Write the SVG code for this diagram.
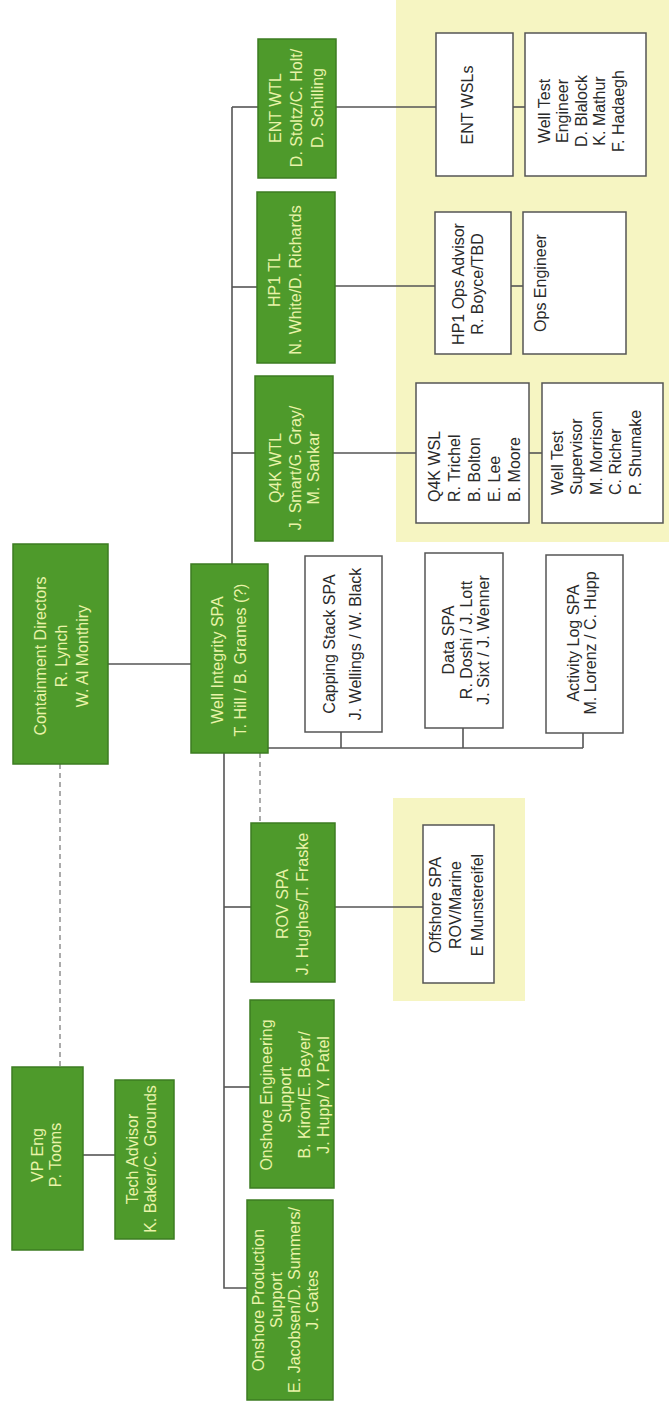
<svg xmlns="http://www.w3.org/2000/svg" width="669" height="1402" viewBox="0 0 669 1402">
<style>
.bg{fill:#ffffff}
.zone{fill:#f6f5c2}
.gbox{fill:#4e9a2b;stroke:#3d7c22;stroke-width:1.5}
.wbox{fill:#ffffff;stroke:#555555;stroke-width:1.5}
.gt{font-family:"Liberation Sans",Arial,sans-serif;font-size:16px;fill:#e9f3a8;text-anchor:middle}
.wt{font-family:"Liberation Sans",Arial,sans-serif;font-size:16px;fill:#2a2a2a;text-anchor:middle}
.st{text-anchor:start}
.ln{fill:none;stroke:#555555;stroke-width:1.6}
.dl{fill:none;stroke:#888888;stroke-width:1.4;stroke-dasharray:5 4}
</style>
<rect class="bg" x="0" y="0" width="669" height="1402"/>
<g id="zones">
<rect class="zone" x="396" y="0" width="273" height="542"/>
<rect class="zone" x="393" y="798" width="132" height="203"/>
</g>
<g id="connectors">
<path class="ln" d="M232 107 V564"/>
<path class="ln" d="M232 107 H258"/>
<path class="ln" d="M232 287 H257"/>
<path class="ln" d="M232 453 H255"/>
<path class="ln" d="M336 107 H436"/>
<path class="ln" d="M513 107 H525"/>
<path class="ln" d="M335 286 H435"/>
<path class="ln" d="M511 286 H523"/>
<path class="ln" d="M333 453 H416"/>
<path class="ln" d="M529 453 H542"/>
<path class="ln" d="M108 664 H191"/>
<path class="ln" d="M268 748 H583"/>
<path class="ln" d="M341 732 V748"/>
<path class="ln" d="M463 728 V748"/>
<path class="ln" d="M583 733 V748"/>
<path class="ln" d="M224 753 V1288 H247"/>
<path class="ln" d="M224 907 H251"/>
<path class="ln" d="M224 1087 H250"/>
<path class="ln" d="M335 907 H423"/>
<path class="ln" d="M83 1155 H115"/>
<path class="dl" d="M60 764 V1067"/>
<path class="dl" d="M260 753 V823"/>
</g>
<g id="ent-wtl">
<rect class="gbox" x="258" y="39" width="78" height="139"/>
<text class="gt" transform="translate(0,108) rotate(-90)"><tspan x="0" y="281">ENT WTL</tspan><tspan x="0" y="302">D. Stoltz/C. Holt/</tspan><tspan x="0" y="323">D. Schilling</tspan></text>
</g>
<g id="ent-wsls">
<rect class="wbox" x="436" y="33" width="77" height="143"/>
<text class="wt" transform="translate(0,105) rotate(-90)"><tspan x="0" y="473">ENT WSLs</tspan></text>
</g>
<g id="well-test-engineer">
<rect class="wbox" x="525" y="33" width="121" height="143"/>
<text class="wt" transform="translate(0,111) rotate(-90)"><tspan x="0" y="550">Well Test</tspan><tspan x="0" y="568">Engineer</tspan><tspan x="0" y="587">D. Blalock</tspan><tspan x="0" y="605">K. Mathur</tspan><tspan x="0" y="624">F. Hadaegh</tspan></text>
</g>
<g id="hp1-tl">
<rect class="gbox" x="257" y="192" width="78" height="171"/>
<text class="gt" transform="translate(0,280) rotate(-90)"><tspan x="0" y="280">HP1 TL</tspan><tspan x="0" y="301">N. White/D. Richards</tspan></text>
</g>
<g id="hp1-ops-advisor">
<rect class="wbox" x="435" y="212" width="76" height="142"/>
<text class="wt" transform="translate(0,284) rotate(-90)"><tspan x="0" y="464">HP1 Ops Advisor</tspan><tspan x="0" y="483">R. Boyce/TBD</tspan></text>
</g>
<g id="ops-engineer">
<rect class="wbox" x="523" y="212" width="103" height="142"/>
<text class="wt" transform="translate(0,283) rotate(-90)"><tspan x="0" y="546">Ops Engineer</tspan></text>
</g>
<g id="q4k-wtl">
<rect class="gbox" x="255" y="376" width="78" height="165"/>
<text class="gt" transform="translate(0,468) rotate(-90)"><tspan x="0" y="281">Q4K WTL</tspan><tspan x="0" y="301">J. Smart/G. Gray/</tspan><tspan x="0" y="319">M. Sankar</tspan></text>
</g>
<g id="q4k-wsl">
<rect class="wbox" x="416" y="383" width="113" height="140"/>
<text class="wt st" transform="translate(0,502) rotate(-90)"><tspan x="0" y="440">Q4K WSL</tspan><tspan x="0" y="460">R. Trichel</tspan><tspan x="0" y="480">B. Bolton</tspan><tspan x="0" y="500">E. Lee</tspan><tspan x="0" y="520">B. Moore</tspan></text>
</g>
<g id="well-test-supervisor">
<rect class="wbox" x="542" y="383" width="121" height="140"/>
<text class="wt st" transform="translate(0,495) rotate(-90)"><tspan x="0" y="563">Well Test</tspan><tspan x="0" y="582">Supervisor</tspan><tspan x="0" y="602">M. Morrison</tspan><tspan x="0" y="621">C. Richer</tspan><tspan x="0" y="641">P. Shumake</tspan></text>
</g>
<g id="containment-directors">
<rect class="gbox" x="13" y="544" width="95" height="220"/>
<text class="gt" transform="translate(0,656) rotate(-90)"><tspan x="0" y="46">Containment Directors</tspan><tspan x="0" y="67">R. Lynch</tspan><tspan x="0" y="88">W. Al Monthiry</tspan></text>
</g>
<g id="well-integrity-spa">
<rect class="gbox" x="191" y="564" width="77" height="189"/>
<text class="gt" transform="translate(0,660) rotate(-90)"><tspan x="0" y="223">Well Integrity SPA</tspan><tspan x="0" y="246">T. Hill / B. Grames (?)</tspan></text>
</g>
<g id="capping-stack-spa">
<rect class="wbox" x="305" y="556" width="77" height="176"/>
<text class="wt" transform="translate(0,644) rotate(-90)"><tspan x="0" y="335">Capping Stack SPA</tspan><tspan x="0" y="361">J. Wellings / W. Black</tspan></text>
</g>
<g id="data-spa">
<rect class="wbox" x="425" y="553" width="78" height="175"/>
<text class="wt" transform="translate(0,640) rotate(-90)"><tspan x="0" y="454">Data SPA</tspan><tspan x="0" y="472">R. Doshi / J. Lott</tspan><tspan x="0" y="489">J. Sixt / J. Wenner</tspan></text>
</g>
<g id="activity-log-spa">
<rect class="wbox" x="546" y="555" width="77" height="178"/>
<text class="wt" transform="translate(0,643) rotate(-90)"><tspan x="0" y="579">Activity Log SPA</tspan><tspan x="0" y="596">M. Lorenz / C. Hupp</tspan></text>
</g>
<g id="rov-spa">
<rect class="gbox" x="251" y="823" width="84" height="159"/>
<text class="gt" transform="translate(0,904) rotate(-90)"><tspan x="0" y="288">ROV SPA</tspan><tspan x="0" y="308">J. Hughes/T. Fraske</tspan></text>
</g>
<g id="offshore-spa">
<rect class="wbox" x="423" y="825" width="71" height="158"/>
<text class="wt" transform="translate(0,905) rotate(-90)"><tspan x="0" y="441">Offshore SPA</tspan><tspan x="0" y="461">ROV/Marine</tspan><tspan x="0" y="483">E Munstereifel</tspan></text>
</g>
<g id="onshore-engineering-support">
<rect class="gbox" x="250" y="1000" width="84" height="188"/>
<text class="gt" transform="translate(0,1095) rotate(-90)"><tspan x="0" y="272">Onshore Engineering</tspan><tspan x="0" y="291">Support</tspan><tspan x="0" y="310">B. Kiron/E. Beyer/</tspan><tspan x="0" y="329">J. Hupp/ Y. Patel</tspan></text>
</g>
<g id="onshore-production-support">
<rect class="gbox" x="247" y="1200" width="86" height="200"/>
<text class="gt" transform="translate(0,1300) rotate(-90)"><tspan x="0" y="264">Onshore Production</tspan><tspan x="0" y="282">Support</tspan><tspan x="0" y="300">E. Jacobsen/D. Summers/</tspan><tspan x="0" y="318">J. Gates</tspan></text>
</g>
<g id="vp-eng">
<rect class="gbox" x="12" y="1067" width="71" height="183"/>
<text class="gt" transform="translate(0,1155) rotate(-90)"><tspan x="0" y="43">VP Eng</tspan><tspan x="0" y="61">P. Tooms</tspan></text>
</g>
<g id="tech-advisor">
<rect class="gbox" x="115" y="1080" width="59" height="159"/>
<text class="gt" transform="translate(0,1159) rotate(-90)"><tspan x="0" y="138">Tech Advisor</tspan><tspan x="0" y="156">K. Baker/C. Grounds</tspan></text>
</g>
</svg>
